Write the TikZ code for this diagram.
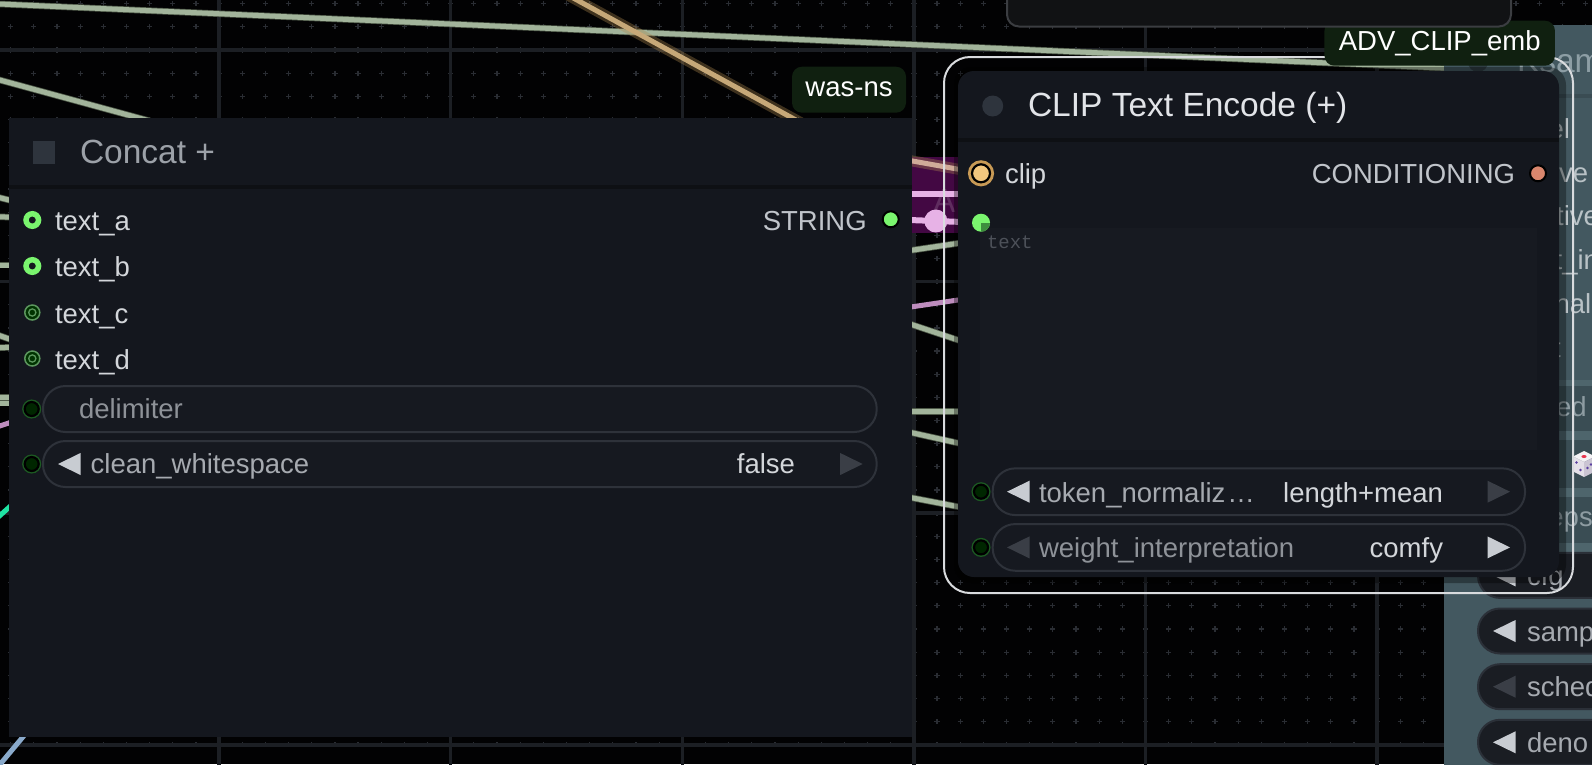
\documentclass[tikz,border=0pt]{standalone}
\usepackage{fontspec}
\setmainfont{Liberation Sans}
\newfontfamily\monof{Liberation Mono}
\usetikzlibrary{calc}
\newcommand\fbody{\fontsize{27.5pt}{33pt}\selectfont}
\newcommand\ftitle{\fontsize{33.5pt}{40pt}\selectfont}
\newcommand\fmono{\monof\fontsize{19pt}{23pt}\selectfont}
\newcommand\LArrW[3]{\fill[#3] (#1,#2) -- ++(22.5,-11) -- ++(0,22) -- cycle;}
\newcommand\RArrW[3]{\fill[#3] (#1,#2) -- ++(-22.5,-11) -- ++(0,22) -- cycle;}
\definecolor{bgc}{HTML}{020203}
\definecolor{gridc}{HTML}{1C1F24}
\definecolor{dotc}{HTML}{2A2D33}
\definecolor{sage}{HTML}{A2B49B}
\definecolor{sagedk}{HTML}{4E5948}
\definecolor{tanc}{HTML}{C6A878}
\definecolor{tanglow}{HTML}{B08A50}
\definecolor{pinkl}{HTML}{E7B2E6}
\definecolor{mauve}{HTML}{BE8DBE}
\definecolor{magbg}{HTML}{430843}
\definecolor{magA}{HTML}{5F2D5F}
\definecolor{tealc}{HTML}{1FE3A2}
\definecolor{bluec}{HTML}{8AAACB}
\definecolor{nodebg}{HTML}{14171E}
\definecolor{pillbg}{HTML}{161920}
\definecolor{tabg}{HTML}{171A21}
\definecolor{sepc}{HTML}{0E1014}
\definecolor{sqc}{HTML}{2E343D}
\definecolor{pillbd}{HTML}{2E323A}
\definecolor{txtlt}{HTML}{D3D6DA}
\definecolor{txtmd}{HTML}{A6AAB0}
\definecolor{txtdm}{HTML}{8E9298}
\definecolor{txtcap}{HTML}{C0C4CA}
\definecolor{arrbr}{HTML}{C8CCD2}
\definecolor{arrdim}{HTML}{3A3E46}
\definecolor{slotgrn}{HTML}{7AF56E}
\definecolor{slotdk}{HTML}{3E8E3E}
\definecolor{slotdim}{HTML}{5C965E}
\definecolor{glowgrn}{HTML}{1C5A22}
\definecolor{clipdot}{HTML}{F2C77E}
\definecolor{cliphalo}{HTML}{C89A55}
\definecolor{conddot}{HTML}{D9866D}
\definecolor{lblbg}{HTML}{102010}
\definecolor{selc}{HTML}{D9DBDE}
\definecolor{ctitlec}{HTML}{9CA1A8}
\definecolor{ctitlebr}{HTML}{E2E4E8}
\definecolor{phc}{HTML}{4D5159}
\definecolor{boxbg}{HTML}{111214}
\definecolor{boxbd}{HTML}{3B3D41}
\definecolor{ksbg}{HTML}{435860}
\definecolor{ksdk}{HTML}{3A4C53}
\definecolor{kslight}{HTML}{4E656C}
\definecolor{ksmid}{HTML}{3A4D54}
\definecolor{ksdot}{HTML}{2F3D43}
\definecolor{kstitle}{HTML}{8D9EA5}
\definecolor{kslbl}{HTML}{B9C2C6}
\definecolor{kslbldm}{HTML}{8E9CA2}
\definecolor{kpillbg}{HTML}{1A1D23}
\definecolor{kpillbd}{HTML}{2B3038}
\definecolor{dicetop}{HTML}{F4F2F5}
\definecolor{diceL}{HTML}{E4E0E8}
\definecolor{diceR}{HTML}{CBC5D3}
\definecolor{dicered}{HTML}{E8364F}
\definecolor{dicepur}{HTML}{5A3FA0}
\begin{document}
\begin{tikzpicture}[x=1pt,y=-1pt,
  every node/.style={inner sep=0pt, outer sep=0pt},
  lbl/.style={font=\fbody, text=txtlt, anchor=base west},
  lble/.style={font=\fbody, text=txtlt, anchor=base east},
  ttl/.style={font=\ftitle, anchor=base west},
  sagelink/.style={draw=sage, line width=5pt, preaction={draw=sagedk, line width=6.5pt}},
  pinklink/.style={draw=pinkl, line width=6pt},
  tanlink/.style={draw=tanc, line width=5pt, preaction={draw=tanglow, line width=11pt, opacity=0.35}},
  slotA/.style={circle, minimum size=12.5pt, draw=slotgrn, line width=5.5pt, fill=nodebg},
  slotC/.style={circle, minimum size=15pt, draw=slotdim, line width=1.5pt, fill=black!80!green,
     path picture={\draw[slotdim, line width=1.3pt] (path picture bounding box.center) circle (3.6pt);}},
  wslot/.style={circle, minimum size=14pt, draw=black, line width=2.2pt, fill=black!85!green,
     preaction={draw=glowgrn, line width=5pt}},
  outdot/.style={circle, minimum size=16pt, draw=black, line width=2pt},
  pill/.style={rectangle, rounded corners=22.5pt, draw=pillbd, line width=2pt, fill=pillbg},
  kpill/.style={rectangle, rounded corners=22pt, draw=kpillbd, line width=2pt, fill=kpillbg, minimum width=200pt, minimum height=45pt, anchor=west},
  tag/.style={rectangle, rounded corners=10pt, fill=lblbg, text=white, font=\fbody}
]
\useasboundingbox (0,0) rectangle (1592,764);
\clip (0,0) rectangle (1592,764);
\fill[bgc] (0,0) rectangle (1592,764);

% ---- canvas grid ----
\draw[dotc, line width=1.2pt]
  \foreach \i in {0,...,69}{ \foreach \j in {-2,...,31}{
    ({-12.5+23.16*\i-2.6},{50+23.16*\j}) -- ++(5.2,0)
    ({-12.5+23.16*\i},{50+23.16*\j-2.6}) -- ++(0,5.2) } };
\foreach \k in {1,...,7} \draw[gridc, line width=3.5pt] ({-12.5+231.6*\k},-5) -- ({-12.5+231.6*\k},770);
\foreach \k in {0,...,3} \draw[gridc, line width=3.5pt] (-5,{50+231.6*\k}) -- (1600,{50+231.6*\k});

% ---- link end points ----
\coordinate (L1a) at (-5,3.8);
\coordinate (L1b) at (1452,68.5);
\coordinate (L2a) at (-5,78.7);
\coordinate (L2b) at (150,121);
\coordinate (T1a) at (566,-6);
\coordinate (T1b) at (805,125);
\coordinate (T2a) at (904,159.5);
\coordinate (clipIn) at (981,173.3);
\coordinate (strOut) at (890.7,219.3);
\coordinate (txtIn) at (981,222.7);
\coordinate (P1a) at (904,193.5);
\coordinate (P1b) at (966,193.5);
\coordinate (G1a) at (904,251.4); \coordinate (G1b) at (966,242.1);
\coordinate (G2a) at (904,308.0); \coordinate (G2b) at (966,298.8);
\coordinate (G3a) at (904,322.0); \coordinate (G3b) at (966,342.7);
\coordinate (G4a) at (904,411.7); \coordinate (G4b) at (966,411.7);
\coordinate (G5a) at (904,431.0); \coordinate (G5b) at (966,444.8);
\coordinate (G6a) at (904,496.3); \coordinate (G6b) at (966,508.2);
\coordinate (E1a) at (-5,196.5); \coordinate (E1b) at (15,201.5);
\coordinate (E2a) at (-5,216.5); \coordinate (E2b) at (15,217.5);
\coordinate (E3a) at (-5,265);   \coordinate (E3b) at (15,265);
\coordinate (E4a) at (-5,334);   \coordinate (E4b) at (15,341);
\coordinate (E5a) at (-5,348);   \coordinate (E5b) at (15,347);
\coordinate (E6a) at (-5,397);   \coordinate (E6b) at (15,397);
\coordinate (E7a) at (-5,403);   \coordinate (E7b) at (15,403);
\coordinate (E8a) at (-5,427.5); \coordinate (E8b) at (15,421);
\coordinate (E9a) at (-5,520);   \coordinate (E9b) at (15,502);
\coordinate (E10a) at (-3,768);  \coordinate (E10b) at (32,726);

% ---- links ----
\draw[sagelink] (L1a) -- (L1b);
\draw[sagelink] (L2a) -- (L2b);
\draw[tanlink] (T1a) -- (T1b);
\foreach \n in {E1,E2,E3,E4,E5,E6,E7} \draw[sagelink] (\n a) -- (\n b);
\draw[draw=mauve, line width=5pt] (E8a) -- (E8b);
\draw[draw=tealc, line width=5pt] (E9a) -- (E9b);
\draw[draw=bluec, line width=5pt] (E10a) -- (E10b);

\fill[magbg] (906,157) rectangle (962,233);
\node[font=\ftitle, text=magA, anchor=base west] (magLetter) at (933,212) {A};
\draw[tanlink, tanc!70!pinkl] (T2a) -- (clipIn);
\draw[pinklink] (P1a) -- (P1b);
\draw[pinklink] (strOut) -- (txtIn);
\node[circle, fill=pinkl, minimum size=23pt] (linkMid) at ($(strOut)!0.5!(txtIn)$) {};
\foreach \n in {G1,G3,G4,G5,G6} \draw[sagelink] (\n a) -- (\n b);
\draw[draw=mauve, line width=5pt] (G2a) -- (G2b);

% ---- Concat + node ----
\node[fill=nodebg, minimum width=903pt, minimum height=619pt] (concat) at (460.5,427.5) {};
\fill[sepc] (9,185) rectangle (912,189);
\node[fill=sqc, minimum width=22pt, minimum height=23pt] (csq) at (44,152.5) {};
\node[ttl, text=ctitlec] (ctitle) at (80,163.5) {Concat +};

\node[slotA] (sa) at (32.3,220) {};
\node[lbl] (la) at (55,230.5) {text\_a};
\node[slotA] (sb) at (32.3,266) {};
\node[lbl] (lb) at (55,276.5) {text\_b};
\node[slotC] (sc) at (32.3,312.5) {};
\node[lbl] (lc) at (55,323) {text\_c};
\node[slotC] (sd) at (32.3,358.5) {};
\node[lbl] (ld) at (55,369) {text\_d};

\node[lble, text=txtcap] (lstr) at (866.7,230) {STRING};
\node[outdot, fill=slotgrn] (strOutDot) at (strOut) {};

\node[pill, minimum width=833.7pt, minimum height=46pt] (delim) at (459.85,409) {};
\node[wslot] (dslot) at (31.7,409) {};
\node[lbl, text=txtdm] (ldelim) at (79,418.5) {delimiter};

\node[pill, minimum width=833.7pt, minimum height=46pt] (clean) at (459.85,464) {};
\node[wslot] (cslot) at (31.7,464) {};
\LArrW{58}{464}{arrbr}
\node[lbl, text=txtmd] (lclean) at (90.7,473.5) {clean\_whitespace};
\node[lble] (lfalse) at (795,473.5) {false};
\RArrW{862.7}{464}{arrdim}

% ---- right node (partly hidden) ----
\node[fill=ksbg, rounded corners=14pt, minimum width=200pt, minimum height=800pt, anchor=north west] (ks) at (1444,25) {};
\fill[ksdk] (1444,94) rectangle (1600,97.5);
\node[circle, fill=ksdot, minimum size=20pt] (ksdotN) at (1478,62) {};
\node[ttl, text=kstitle] (kst) at (1517,72) {Ksam};
\node[lbl, text=kslbl] (k1) at (1548.5,138.3) {el};
\node[lbl, text=kslbl] (k2) at (1559.2,182.0) {ve};
\node[lbl, text=kslbl] (k3) at (1556.2,225.8) {tive};
\node[lbl, text=kslbl] (k4) at (1554.6,269.5) {t\_in};
\node[lbl, text=kslbl] (k5) at (1554.6,313.3) {nal};
\node[lbl, text=kslbl] (k6) at (1553,357.0) {t};
\fill[kslight] (1478,380) rectangle (1600,552);
\fill[ksmid] (1478,386) rectangle (1600,431);
\fill[ksmid] (1478,440) rectangle (1600,488);
\fill[ksmid] (1478,496.5) rectangle (1600,543);
\node[lbl, text=kslbldm] (kseed) at (1556,416.7) {ed};
\node[lbl, text=kslbldm] (ksteps) at (1548.4,526.5) {eps};
% dice
\fill[dicetop] (1584,451) -- (1595,456.5) -- (1584,462) -- (1573,456.5) -- cycle;
\fill[diceL] (1573,456.5) -- (1584,462) -- (1584,477) -- (1573,471.5) -- cycle;
\fill[diceR] (1584,462) -- (1595,456.5) -- (1595,471.5) -- (1584,477) -- cycle;
\fill[dicered] (1584,456.5) ellipse (2.6pt and 1.5pt);
\fill[dicepur] (1576.5,462.5) circle (1.3pt) (1580.5,470) circle (1.3pt) (1587.5,468) circle (1.3pt) (1591,464.5) circle (1.3pt);

\node[kpill] (kcfg) at (1478,575.4) {};
\LArrW{1493}{575.4}{arrbr}
\node[lbl, text=txtmd] (lcfg) at (1527,585.4) {cfg};
\node[kpill] (ksamp) at (1478,631) {};
\LArrW{1493}{631}{arrbr}
\node[lbl, text=txtmd] (lsamp) at (1527,641) {samp};
\node[kpill] (ksche) at (1478,686.7) {};
\LArrW{1493}{686.7}{arrdim}
\node[lbl, text=txtmd] (lsche) at (1527,696.7) {sched};
\node[kpill] (kden) at (1478,742.3) {};
\LArrW{1493}{742.3}{arrbr}
\node[lbl, text=txtmd] (lden) at (1527,752.3) {deno};

% ---- CLIP Text Encode (+) node ----
\fill[black, opacity=0.35, rounded corners=18pt] (954,67) rectangle (1566,583);
\node[fill=nodebg, rounded corners=16pt, minimum width=601pt, minimum height=506pt] (clipnode) at (1258.5,324) {};
\fill[sepc] (958,138) rectangle (1559,142);
\node[circle, fill=sqc, minimum size=21pt] (cdot) at (992.7,106) {};
\node[ttl, text=ctitlebr] (cttl) at (1028,116.7) {CLIP Text Encode (+)};

\node[fill=tabg, minimum width=557pt, minimum height=222pt, anchor=north west] (tarea) at (980,228) {};
\node[font=\fmono, text=phc, anchor=base west] (ph) at (987,248.3) {text};

\node[circle, minimum size=18pt, fill=clipdot, draw=black, line width=2.2pt,
      preaction={draw=cliphalo, line width=8pt}] (clipInDot) at (clipIn) {};
\node[lbl] (lclip) at (1005,183.3) {clip};
\node[lble, text=txtcap] (lcond) at (1515,183.3) {CONDITIONING};
\node[outdot, fill=conddot] (condOut) at (1538,173.3) {};
\node[circle, minimum size=18pt, fill=slotgrn,
      path picture={\fill[slotdk] (path picture bounding box.center) rectangle (path picture bounding box.south east);}] (txtInDot) at (txtIn) {};

\node[pill, minimum width=532.3pt, minimum height=46.7pt] (tok) at (1258.85,491.7) {};
\node[wslot] (tslot) at (981,491.7) {};
\LArrW{1007}{491.7}{arrbr}
\node[lbl, text=txtmd] (ltok) at (1039,502.2) {token\_normaliz\kern2pt…};
\node[lble] (ltokv) at (1443,502.2) {length+mean};
\RArrW{1510}{491.7}{arrdim}

\node[pill, minimum width=532.3pt, minimum height=46.7pt] (wgt) at (1258.85,547.4) {};
\node[wslot] (wslotN) at (981,547.4) {};
\LArrW{1007}{547.4}{arrdim}
\node[lbl, text=txtdm] (lwgt) at (1039,557.9) {weight\_interpretation};
\node[lble] (lwgtv) at (1443,557.9) {comfy};
\RArrW{1510}{547.4}{arrbr}

\node[draw=selc, line width=2pt, rounded corners=26pt, minimum width=629pt, minimum height=536pt] (sel) at (1258.5,325) {};

% ---- badges ----
\node[tag, minimum width=114pt, minimum height=46pt] (wasns) at (849,89.7) {was-ns};
\node[tag, minimum width=230.5pt, minimum height=45pt] (advclip) at (1439.7,43.2) {ADV\_CLIP\_emb};
\node[fill=boxbg, draw=boxbd, line width=2pt, rounded corners=12pt, minimum width=504pt, minimum height=60pt] (topbox) at (1259,-3.5) {};
\end{tikzpicture}
\end{document}
